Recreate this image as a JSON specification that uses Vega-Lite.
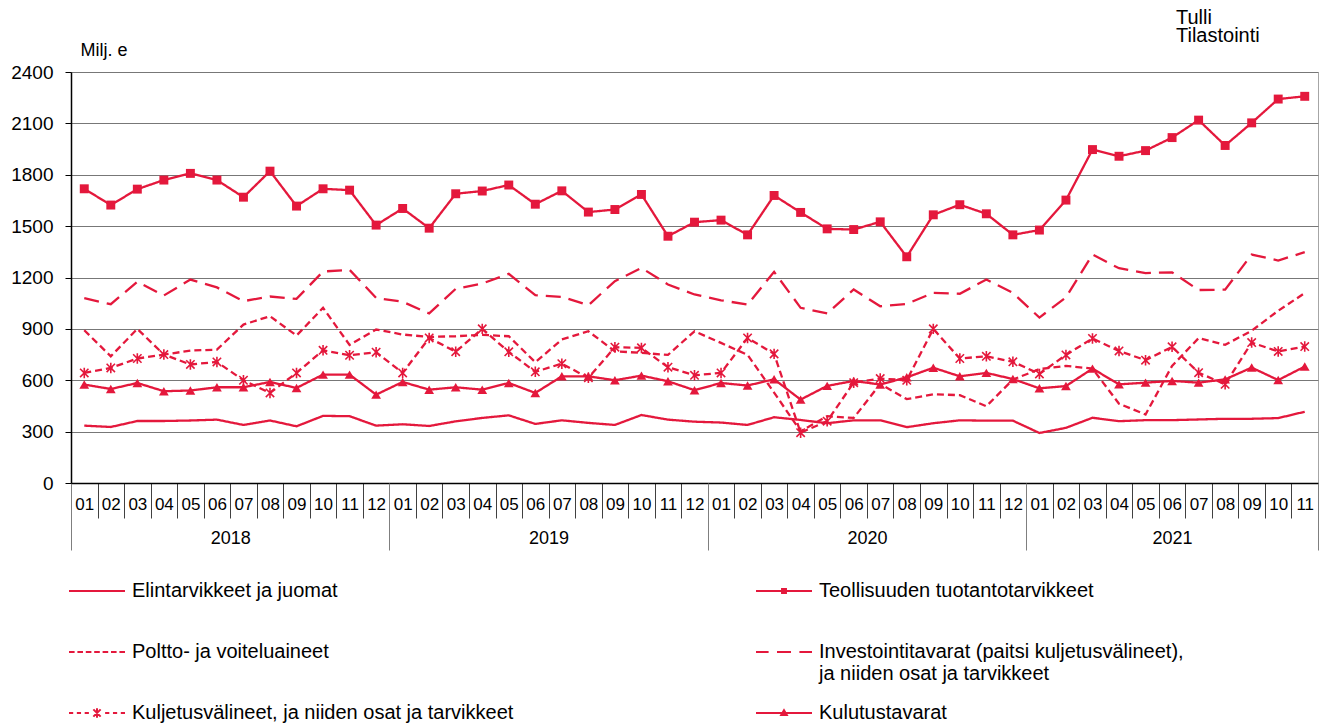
{
  "$schema": "https://vega.github.io/schema/vega-lite/v6.json",
  "width": 1247,
  "height": 411,
  "autosize": {"type": "none"},
  "padding": {"left": 71, "top": 72, "right": 10, "bottom": 241},
  "background": "white",
  "config": {
    "font": "Liberation Sans",
    "view": {"stroke": "#a6a6a6", "strokeWidth": 1},
    "axis": {"labelFont": "Liberation Sans", "titleFont": "Liberation Sans", "labelColor": "#000000", "titleColor": "#000000"}
  },
  "title": {
    "text": ["Tulli", "Tilastointi"],
    "anchor": "start",
    "frame": "group",
    "dx": 1105,
    "dy": 5,
    "align": "left",
    "fontSize": 20,
    "fontWeight": "normal",
    "font": "Liberation Sans",
    "color": "#000000",
    "lineHeight": 18,
    "offset": 0
  },
  "datasets": {
    "series": [
      {"s": "E", "name": "Elintarvikkeet ja juomat"},
      {"s": "T", "name": "Teollisuuden tuotantotarvikkeet"},
      {"s": "P", "name": "Poltto- ja voiteluaineet"},
      {"s": "I", "name": "Investointitavarat (paitsi kuljetusvälineet), ja niiden osat ja tarvikkeet"},
      {"s": "K", "name": "Kuljetusvälineet, ja niiden osat ja tarvikkeet"},
      {"s": "U", "name": "Kulutustavarat"}
    ]
  },
  "data": {"values": [
    {"m":"2018-01","s":"E","v":335},{"m":"2018-01","s":"T","v":1718},{"m":"2018-01","s":"P","v":892},{"m":"2018-01","s":"I","v":1079},{"m":"2018-01","s":"K","v":643},{"m":"2018-01","s":"U","v":575},
    {"m":"2018-02","s":"E","v":327},{"m":"2018-02","s":"T","v":1623},{"m":"2018-02","s":"P","v":740},{"m":"2018-02","s":"I","v":1044},{"m":"2018-02","s":"K","v":672},{"m":"2018-02","s":"U","v":549},
    {"m":"2018-03","s":"E","v":362},{"m":"2018-03","s":"T","v":1716},{"m":"2018-03","s":"P","v":900},{"m":"2018-03","s":"I","v":1175},{"m":"2018-03","s":"K","v":727},{"m":"2018-03","s":"U","v":584},
    {"m":"2018-04","s":"E","v":362},{"m":"2018-04","s":"T","v":1769},{"m":"2018-04","s":"P","v":750},{"m":"2018-04","s":"I","v":1095},{"m":"2018-04","s":"K","v":750},{"m":"2018-04","s":"U","v":536},
    {"m":"2018-05","s":"E","v":365},{"m":"2018-05","s":"T","v":1808},{"m":"2018-05","s":"P","v":773},{"m":"2018-05","s":"I","v":1188},{"m":"2018-05","s":"K","v":692},{"m":"2018-05","s":"U","v":540},
    {"m":"2018-06","s":"E","v":370},{"m":"2018-06","s":"T","v":1769},{"m":"2018-06","s":"P","v":779},{"m":"2018-06","s":"I","v":1142},{"m":"2018-06","s":"K","v":707},{"m":"2018-06","s":"U","v":559},
    {"m":"2018-07","s":"E","v":339},{"m":"2018-07","s":"T","v":1669},{"m":"2018-07","s":"P","v":925},{"m":"2018-07","s":"I","v":1062},{"m":"2018-07","s":"K","v":600},{"m":"2018-07","s":"U","v":559},
    {"m":"2018-08","s":"E","v":365},{"m":"2018-08","s":"T","v":1821},{"m":"2018-08","s":"P","v":974},{"m":"2018-08","s":"I","v":1089},{"m":"2018-08","s":"K","v":526},{"m":"2018-08","s":"U","v":590},
    {"m":"2018-09","s":"E","v":331},{"m":"2018-09","s":"T","v":1617},{"m":"2018-09","s":"P","v":861},{"m":"2018-09","s":"I","v":1075},{"m":"2018-09","s":"K","v":643},{"m":"2018-09","s":"U","v":555},
    {"m":"2018-10","s":"E","v":392},{"m":"2018-10","s":"T","v":1718},{"m":"2018-10","s":"P","v":1023},{"m":"2018-10","s":"I","v":1235},{"m":"2018-10","s":"K","v":775},{"m":"2018-10","s":"U","v":633},
    {"m":"2018-11","s":"E","v":390},{"m":"2018-11","s":"T","v":1710},{"m":"2018-11","s":"P","v":806},{"m":"2018-11","s":"I","v":1245},{"m":"2018-11","s":"K","v":746},{"m":"2018-11","s":"U","v":633},
    {"m":"2018-12","s":"E","v":335},{"m":"2018-12","s":"T","v":1506},{"m":"2018-12","s":"P","v":896},{"m":"2018-12","s":"I","v":1081},{"m":"2018-12","s":"K","v":764},{"m":"2018-12","s":"U","v":516},
    {"m":"2019-01","s":"E","v":343},{"m":"2019-01","s":"T","v":1603},{"m":"2019-01","s":"P","v":867},{"m":"2019-01","s":"I","v":1058},{"m":"2019-01","s":"K","v":643},{"m":"2019-01","s":"U","v":590},
    {"m":"2019-02","s":"E","v":333},{"m":"2019-02","s":"T","v":1488},{"m":"2019-02","s":"P","v":853},{"m":"2019-02","s":"I","v":990},{"m":"2019-02","s":"K","v":847},{"m":"2019-02","s":"U","v":545},
    {"m":"2019-03","s":"E","v":360},{"m":"2019-03","s":"T","v":1689},{"m":"2019-03","s":"P","v":857},{"m":"2019-03","s":"I","v":1134},{"m":"2019-03","s":"K","v":767},{"m":"2019-03","s":"U","v":559},
    {"m":"2019-04","s":"E","v":380},{"m":"2019-04","s":"T","v":1705},{"m":"2019-04","s":"P","v":865},{"m":"2019-04","s":"I","v":1165},{"m":"2019-04","s":"K","v":900},{"m":"2019-04","s":"U","v":545},
    {"m":"2019-05","s":"E","v":395},{"m":"2019-05","s":"T","v":1740},{"m":"2019-05","s":"P","v":857},{"m":"2019-05","s":"I","v":1221},{"m":"2019-05","s":"K","v":766},{"m":"2019-05","s":"U","v":584},
    {"m":"2019-06","s":"E","v":345},{"m":"2019-06","s":"T","v":1628},{"m":"2019-06","s":"P","v":705},{"m":"2019-06","s":"I","v":1097},{"m":"2019-06","s":"K","v":649},{"m":"2019-06","s":"U","v":526},
    {"m":"2019-07","s":"E","v":366},{"m":"2019-07","s":"T","v":1706},{"m":"2019-07","s":"P","v":838},{"m":"2019-07","s":"I","v":1087},{"m":"2019-07","s":"K","v":697},{"m":"2019-07","s":"U","v":623},
    {"m":"2019-08","s":"E","v":351},{"m":"2019-08","s":"T","v":1582},{"m":"2019-08","s":"P","v":886},{"m":"2019-08","s":"I","v":1038},{"m":"2019-08","s":"K","v":614},{"m":"2019-08","s":"U","v":623},
    {"m":"2019-09","s":"E","v":339},{"m":"2019-09","s":"T","v":1597},{"m":"2019-09","s":"P","v":769},{"m":"2019-09","s":"I","v":1179},{"m":"2019-09","s":"K","v":793},{"m":"2019-09","s":"U","v":600},
    {"m":"2019-10","s":"E","v":397},{"m":"2019-10","s":"T","v":1685},{"m":"2019-10","s":"P","v":760},{"m":"2019-10","s":"I","v":1256},{"m":"2019-10","s":"K","v":789},{"m":"2019-10","s":"U","v":627},
    {"m":"2019-11","s":"E","v":370},{"m":"2019-11","s":"T","v":1441},{"m":"2019-11","s":"P","v":748},{"m":"2019-11","s":"I","v":1159},{"m":"2019-11","s":"K","v":676},{"m":"2019-11","s":"U","v":594},
    {"m":"2019-12","s":"E","v":358},{"m":"2019-12","s":"T","v":1523},{"m":"2019-12","s":"P","v":886},{"m":"2019-12","s":"I","v":1101},{"m":"2019-12","s":"K","v":629},{"m":"2019-12","s":"U","v":542},
    {"m":"2020-01","s":"E","v":353},{"m":"2020-01","s":"T","v":1535},{"m":"2020-01","s":"P","v":818},{"m":"2020-01","s":"I","v":1067},{"m":"2020-01","s":"K","v":643},{"m":"2020-01","s":"U","v":584},
    {"m":"2020-02","s":"E","v":339},{"m":"2020-02","s":"T","v":1449},{"m":"2020-02","s":"P","v":748},{"m":"2020-02","s":"I","v":1042},{"m":"2020-02","s":"K","v":847},{"m":"2020-02","s":"U","v":569},
    {"m":"2020-03","s":"E","v":384},{"m":"2020-03","s":"T","v":1679},{"m":"2020-03","s":"P","v":528},{"m":"2020-03","s":"I","v":1233},{"m":"2020-03","s":"K","v":754},{"m":"2020-03","s":"U","v":606},
    {"m":"2020-04","s":"E","v":368},{"m":"2020-04","s":"T","v":1580},{"m":"2020-04","s":"P","v":302},{"m":"2020-04","s":"I","v":1023},{"m":"2020-04","s":"K","v":294},{"m":"2020-04","s":"U","v":487},
    {"m":"2020-05","s":"E","v":349},{"m":"2020-05","s":"T","v":1484},{"m":"2020-05","s":"P","v":390},{"m":"2020-05","s":"I","v":990},{"m":"2020-05","s":"K","v":361},{"m":"2020-05","s":"U","v":567},
    {"m":"2020-06","s":"E","v":366},{"m":"2020-06","s":"T","v":1480},{"m":"2020-06","s":"P","v":380},{"m":"2020-06","s":"I","v":1130},{"m":"2020-06","s":"K","v":586},{"m":"2020-06","s":"U","v":596},
    {"m":"2020-07","s":"E","v":366},{"m":"2020-07","s":"T","v":1525},{"m":"2020-07","s":"P","v":578},{"m":"2020-07","s":"I","v":1032},{"m":"2020-07","s":"K","v":610},{"m":"2020-07","s":"U","v":575},
    {"m":"2020-08","s":"E","v":326},{"m":"2020-08","s":"T","v":1321},{"m":"2020-08","s":"P","v":490},{"m":"2020-08","s":"I","v":1046},{"m":"2020-08","s":"K","v":600},{"m":"2020-08","s":"U","v":617},
    {"m":"2020-09","s":"E","v":349},{"m":"2020-09","s":"T","v":1566},{"m":"2020-09","s":"P","v":518},{"m":"2020-09","s":"I","v":1110},{"m":"2020-09","s":"K","v":900},{"m":"2020-09","s":"U","v":673},
    {"m":"2020-10","s":"E","v":366},{"m":"2020-10","s":"T","v":1625},{"m":"2020-10","s":"P","v":513},{"m":"2020-10","s":"I","v":1105},{"m":"2020-10","s":"K","v":727},{"m":"2020-10","s":"U","v":623},
    {"m":"2020-11","s":"E","v":364},{"m":"2020-11","s":"T","v":1572},{"m":"2020-11","s":"P","v":448},{"m":"2020-11","s":"I","v":1188},{"m":"2020-11","s":"K","v":740},{"m":"2020-11","s":"U","v":643},
    {"m":"2020-12","s":"E","v":364},{"m":"2020-12","s":"T","v":1449},{"m":"2020-12","s":"P","v":604},{"m":"2020-12","s":"I","v":1110},{"m":"2020-12","s":"K","v":708},{"m":"2020-12","s":"U","v":607},
    {"m":"2021-01","s":"E","v":292},{"m":"2021-01","s":"T","v":1477},{"m":"2021-01","s":"P","v":665},{"m":"2021-01","s":"I","v":966},{"m":"2021-01","s":"K","v":637},{"m":"2021-01","s":"U","v":553},
    {"m":"2021-02","s":"E","v":322},{"m":"2021-02","s":"T","v":1652},{"m":"2021-02","s":"P","v":684},{"m":"2021-02","s":"I","v":1084},{"m":"2021-02","s":"K","v":748},{"m":"2021-02","s":"U","v":566},
    {"m":"2021-03","s":"E","v":381},{"m":"2021-03","s":"T","v":1947},{"m":"2021-03","s":"P","v":668},{"m":"2021-03","s":"I","v":1334},{"m":"2021-03","s":"K","v":844},{"m":"2021-03","s":"U","v":668},
    {"m":"2021-04","s":"E","v":361},{"m":"2021-04","s":"T","v":1908},{"m":"2021-04","s":"P","v":463},{"m":"2021-04","s":"I","v":1254},{"m":"2021-04","s":"K","v":771},{"m":"2021-04","s":"U","v":576},
    {"m":"2021-05","s":"E","v":367},{"m":"2021-05","s":"T","v":1941},{"m":"2021-05","s":"P","v":400},{"m":"2021-05","s":"I","v":1226},{"m":"2021-05","s":"K","v":717},{"m":"2021-05","s":"U","v":586},
    {"m":"2021-06","s":"E","v":367},{"m":"2021-06","s":"T","v":2017},{"m":"2021-06","s":"P","v":684},{"m":"2021-06","s":"I","v":1230},{"m":"2021-06","s":"K","v":795},{"m":"2021-06","s":"U","v":596},
    {"m":"2021-07","s":"E","v":371},{"m":"2021-07","s":"T","v":2119},{"m":"2021-07","s":"P","v":846},{"m":"2021-07","s":"I","v":1127},{"m":"2021-07","s":"K","v":644},{"m":"2021-07","s":"U","v":586},
    {"m":"2021-08","s":"E","v":375},{"m":"2021-08","s":"T","v":1971},{"m":"2021-08","s":"P","v":807},{"m":"2021-08","s":"I","v":1129},{"m":"2021-08","s":"K","v":576},{"m":"2021-08","s":"U","v":605},
    {"m":"2021-09","s":"E","v":375},{"m":"2021-09","s":"T","v":2103},{"m":"2021-09","s":"P","v":889},{"m":"2021-09","s":"I","v":1334},{"m":"2021-09","s":"K","v":820},{"m":"2021-09","s":"U","v":674},
    {"m":"2021-10","s":"E","v":379},{"m":"2021-10","s":"T","v":2242},{"m":"2021-10","s":"P","v":1006},{"m":"2021-10","s":"I","v":1299},{"m":"2021-10","s":"K","v":768},{"m":"2021-10","s":"U","v":601},
    {"m":"2021-11","s":"E","v":416},{"m":"2021-11","s":"T","v":2258},{"m":"2021-11","s":"P","v":1109},{"m":"2021-11","s":"I","v":1348},{"m":"2021-11","s":"K","v":797},{"m":"2021-11","s":"U","v":680}
  ]},
  "transform": [
    {"lookup": "s", "from": {"data": {"name": "series"}, "key": "s", "fields": ["name"]}}
  ],
  "layer": [
    {
      "mark": {"type": "line", "color": "#e4183c", "strokeWidth": 2.3},
      "encoding": {
        "x": {
          "field": "m", "type": "ordinal", "bandPosition": 0.5,
          "scale": {"type": "band", "paddingInner": 0, "paddingOuter": 0},
          "axis": {
            "orient": "bottom", "title": null, "grid": false,
            "tickBand": "extent", "tickSize": 35, "tickColor": "#404040", "tickWidth": 1,
            "domainColor": "#000000", "domainWidth": 1.5,
            "labelExpr": "datum.value ? substring(datum.value, 5) : ''", "labelAngle": 0, "labelFontSize": 17,
            "labelPadding": -22, "labelOverlap": false, "labelBound": false, "labelFlush": false
          }
        },
        "y": {
          "field": "v", "type": "quantitative",
          "scale": {"domain": [0, 2400], "nice": false},
          "axis": {
            "values": [0, 300, 600, 900, 1200, 1500, 1800, 2100, 2400], "format": "d",
            "title": "Milj. e", "titleAngle": 0, "titleAlign": "left", "titleBaseline": "alphabetic",
            "titleX": 9, "titleY": -17, "titleFontSize": 18, "titleFontWeight": "normal",
            "labelFontSize": 19, "labelPadding": 12, "tickSize": 6, "tickColor": "#000000",
            "domainColor": "#000000", "domainWidth": 1.5, "gridColor": "#777777", "gridWidth": 1
          }
        },
        "strokeDash": {
          "field": "s", "type": "nominal",
          "scale": {
            "domain": ["E", "T", "P", "I", "K", "U"],
            "range": [[1, 0], [1, 0], [7, 4], [15, 8], [7, 4], [1, 0]]
          },
          "legend": null
        }
      }
    },
    {
      "transform": [{"filter": "datum.s == 'T'"}],
      "mark": {"type": "point", "shape": "square", "filled": true, "color": "#e4183c", "size": 80, "opacity": 1},
      "encoding": {
        "x": {"field": "m", "type": "ordinal", "bandPosition": 0.5, "scale": {"type": "band", "paddingInner": 0, "paddingOuter": 0}, "axis": null},
        "y": {"field": "v", "type": "quantitative"}
      }
    },
    {
      "transform": [{"filter": "datum.s == 'U'"}],
      "mark": {"type": "point", "shape": "triangle-up", "filled": true, "color": "#e4183c", "size": 95, "opacity": 1},
      "encoding": {
        "x": {"field": "m", "type": "ordinal", "bandPosition": 0.5, "scale": {"type": "band", "paddingInner": 0, "paddingOuter": 0}, "axis": null},
        "y": {"field": "v", "type": "quantitative"}
      }
    },
    {
      "transform": [{"filter": "datum.s == 'K'"}],
      "mark": {"type": "point", "shape": "M-0.8,-0.8L0.8,0.8M-0.8,0.8L0.8,-0.8M0,-1V1", "filled": false, "color": "#e4183c", "strokeWidth": 1.6, "size": 110, "opacity": 1},
      "encoding": {
        "x": {"field": "m", "type": "ordinal", "bandPosition": 0.5, "scale": {"type": "band", "paddingInner": 0, "paddingOuter": 0}, "axis": null},
        "y": {"field": "v", "type": "quantitative"}
      }
    },
    {
      "mark": {"type": "point", "opacity": 0, "filled": false, "color": "#e4183c", "strokeWidth": 2},
      "encoding": {
        "x": {
          "field": "m", "type": "ordinal", "bandPosition": 0.5,
          "scale": {"type": "band", "paddingInner": 0, "paddingOuter": 0},
          "axis": {
            "orient": "bottom", "title": null, "grid": false, "domain": false,
            "tickBand": "extent", "tickSize": 67, "tickColor": "#7f7f7f", "tickWidth": 1,
            "tickOpacity": {"condition": {"test": "datum.extra || substring(datum.value, 5) == '12' || datum.value == '2021-11'", "value": 1}, "value": 0},
            "labelExpr": "datum.value && substring(datum.value, 5) == '06' ? substring(datum.value, 0, 4) : ''",
            "labelOffset": {"condition": {"test": "datum.value == '2021-06'", "value": 0}, "value": 13.27},
            "labelAngle": 0, "labelFontSize": 18, "labelPadding": -21,
            "labelOverlap": false, "labelBound": false, "labelFlush": false
          }
        },
        "shape": {
          "field": "name", "type": "nominal",
          "scale": {
            "domain": ["Elintarvikkeet ja juomat", "Poltto- ja voiteluaineet", "Kuljetusvälineet, ja niiden osat ja tarvikkeet", "Teollisuuden tuotantotarvikkeet", "Investointitavarat (paitsi kuljetusvälineet), ja niiden osat ja tarvikkeet", "Kulutustavarat"],
            "range": [
              "M-1,0H1",
              "M-1,0H-0.8M-0.7,0H-0.5M-0.4,0H-0.2M-0.1,0H0.1M0.2,0H0.4M0.5,0H0.7M0.8,0H1",
              "M-1,0H-0.85M-0.72,0H-0.57M-0.44,0H-0.29M0.29,0H0.44M0.57,0H0.72M0.85,0H1M-0.13,-0.13L0.13,0.13M-0.13,0.13L0.13,-0.13M0,-0.17V0.17",
              "M-1,0H1M-0.07,-0.07H0.07V0.07H-0.07ZM-0.04,-0.04H0.04V0.04H-0.04Z",
              "M-1,0H-0.55M-0.25,0H0.25M0.55,0H1",
              "M-1,0H1M0,-0.1L0.1,0.07H-0.1ZM0,-0.04L0.04,0.04H-0.04Z"
            ]
          },
          "legend": {
            "title": null, "orient": "none", "legendX": -3, "legendY": 490,
            "columns": 2, "columnPadding": 238, "rowPadding": 0, "padding": 0,
            "symbolSize": 3136, "symbolStrokeWidth": 2, "symbolStrokeColor": "#e4183c", "symbolFillColor": "#e4183c", "symbolOpacity": 1,
            "labelFontSize": 20, "labelFont": "Liberation Sans", "labelColor": "#000000", "labelOffset": 6, "labelLimit": 1000,
            "labelExpr": "substring(datum.label, 0, 11) == 'Investointi' ? ['Investointitavarat (paitsi kuljetusvälineet),', 'ja niiden osat ja tarvikkeet'] : [datum.label, '']",
            "encode": {
              "labels": {"update": {"lineHeight": {"value": 25}, "dy": {"value": 12.5}}},
              "symbols": {"update": {"stroke": {"value": "#e4183c"}, "strokeWidth": {"value": 2}, "opacity": {"value": 1}}}
            }
          }
        }
      }
    }
  ],
  "resolve": {"axis": {"x": "independent"}}
}
